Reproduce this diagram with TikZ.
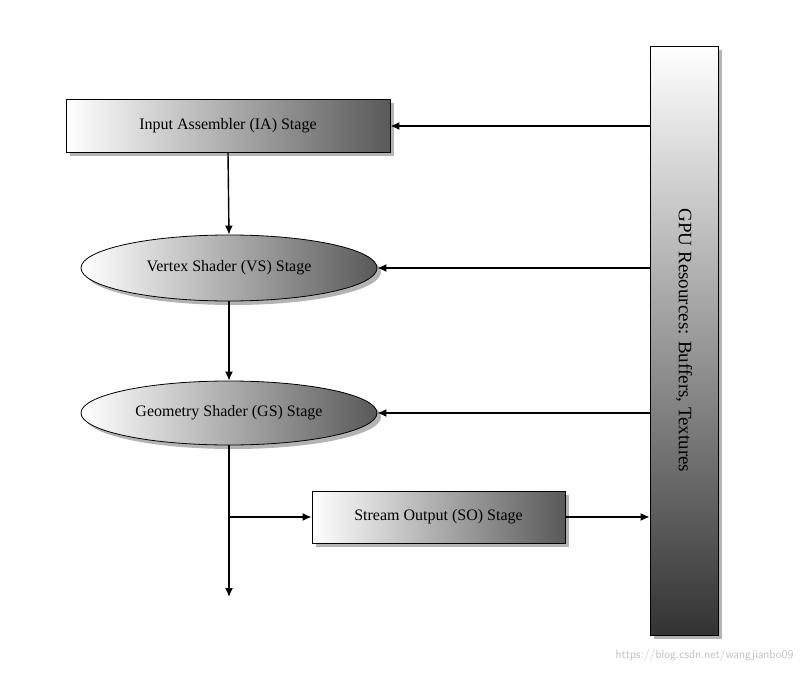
\documentclass[tikz,border=0pt]{standalone}
\usepackage{fontspec}
\setmainfont{Liberation Serif}
\usetikzlibrary{shapes.geometric,shadows,arrows.meta}
\begin{document}
\begin{tikzpicture}[x=1pt,y=-1pt,
  box/.style={draw=black,line width=0.8pt,drop shadow={shadow xshift=4pt,shadow yshift=-4pt,opacity=0.6},left color=white,right color=black!65,font=\fontsize{16}{18}\selectfont},
  ell/.style={ellipse,draw=black,line width=0.8pt,drop shadow={shadow xshift=4pt,shadow yshift=-4pt,opacity=0.6},left color=white,right color=black!65,font=\fontsize{16}{18}\selectfont,inner sep=0pt},
  arr/.style={-{Latex[length=9pt,width=8pt]},line width=1.4pt}]
\useasboundingbox (0,0) rectangle (806,674);
\node[box,minimum width=324pt,minimum height=53pt] (ia) at (228,126) {Input Assembler (IA) Stage};
\node[ell,minimum width=296pt,minimum height=66pt] (vs) at (229,268) {Vertex Shader (VS) Stage};
\node[ell,minimum width=296pt,minimum height=64pt] (gs) at (229,413) {Geometry Shader (GS) Stage};
\node[box,minimum width=253pt,minimum height=52pt] (so) at (438.5,517) {Stream Output (SO) Stage};
\node[draw=black,line width=0.8pt,drop shadow={shadow xshift=4pt,shadow yshift=-4pt,opacity=0.6},top color=white,bottom color=black!80,minimum width=68pt,minimum height=589pt] (gpu) at (684,340.5) {};
\node[rotate=-90,font=\fontsize{19}{21}\selectfont] (gput) at (gpu.center) {GPU Resources: Buffers, Textures};
\coordinate (end) at (229,597);
\coordinate (br) at (229,517);
\draw[arr] (gpu.west |- ia.east) -- (ia.east);
\draw[arr] (gpu.west |- vs.east) -- (vs.east);
\draw[arr] (gpu.west |- gs.east) -- (gs.east);
\draw[arr] (so.east) -- (gpu.west |- so.east);
\draw[arr] (ia.south) -- (vs.north);
\draw[arr] (vs.south) -- (gs.north);
\draw[arr] (gs.south) -- (end);
\draw[arr] (br) -- (so.west);
\node[text=black!25,font=\fontsize{12}{14}\selectfont\sffamily,anchor=east] (wm) at (797,655) {https://blog.csdn.net/wangjianbo09};
\end{tikzpicture}
\end{document}
